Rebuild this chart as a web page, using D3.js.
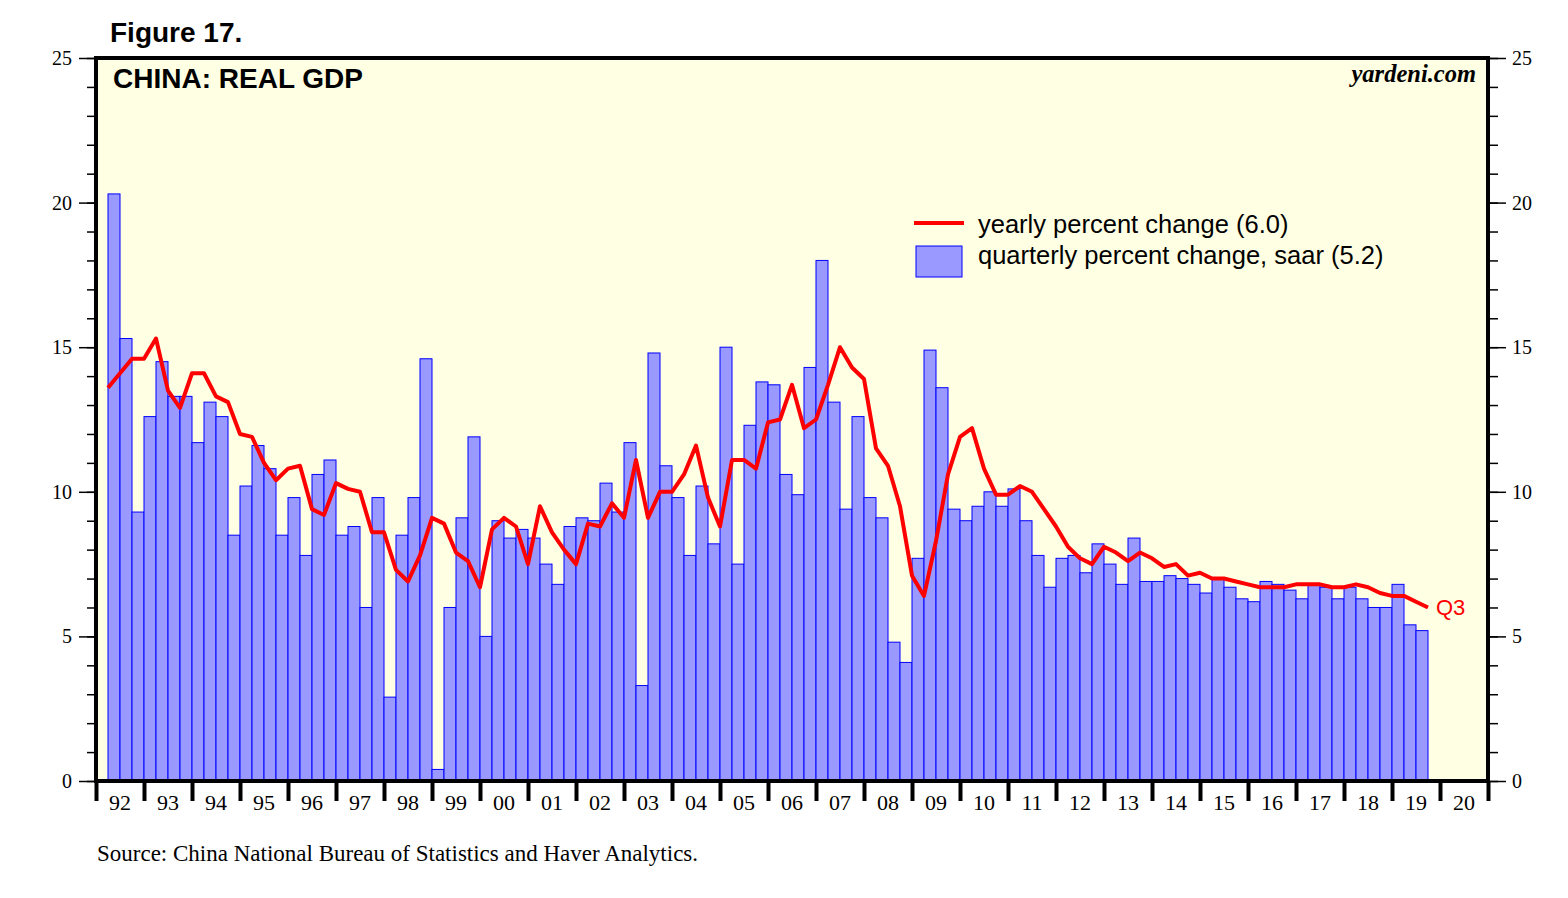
<!DOCTYPE html>
<html>
<head>
<meta charset="utf-8">
<script src="https://cdn.jsdelivr.net/npm/d3@7"></script>
<style>
  body { margin: 0; background: #fff; }
  .serif { font-family: "Liberation Serif", "Times New Roman", serif; }
  .sans { font-family: "Liberation Sans", Arial, sans-serif; }
</style>
</head>
<body>
<div class="canvas"></div>
<script>
const width = 1568;
const height = 898;

// yearly percent change, 1992Q1 .. 2019Q3
const yearly = [
  13.6, 14.1, 14.6, 14.6,
  15.3, 13.5, 12.9, 14.1,
  14.1, 13.3, 13.1, 12.0,
  11.9, 11.0, 10.4, 10.8,
  10.9, 9.4, 9.2, 10.3,
  10.1, 10.0, 8.6, 8.6,
  7.3, 6.9, 7.8, 9.1,
  8.9, 7.9, 7.6, 6.7,
  8.7, 9.1, 8.8, 7.5,
  9.5, 8.6, 8.0, 7.5,
  8.9, 8.8, 9.6, 9.1,
  11.1, 9.1, 10.0, 10.0,
  10.6, 11.6, 9.8, 8.8,
  11.1, 11.1, 10.8, 12.4,
  12.5, 13.7, 12.2, 12.5,
  13.7, 15.0, 14.3, 13.9,
  11.5, 10.9, 9.5, 7.1,
  6.4, 8.3, 10.6, 11.9,
  12.2, 10.8, 9.9, 9.9,
  10.2, 10.0, 9.4, 8.8,
  8.1, 7.7, 7.5, 8.1,
  7.9, 7.6, 7.9, 7.7,
  7.4, 7.5, 7.1, 7.2,
  7.0, 7.0, 6.9, 6.8,
  6.7, 6.7, 6.7, 6.8,
  6.8, 6.8, 6.7, 6.7,
  6.8, 6.7, 6.5, 6.4,
  6.4, 6.2, 6.0
];

// quarterly percent change saar, 1992Q2 .. 2019Q3
const quarterly = [
  20.3, 15.3, 9.3,
  12.6, 14.5, 13.3, 13.3,
  11.7, 13.1, 12.6, 8.5,
  10.2, 11.6, 10.8, 8.5,
  9.8, 7.8, 10.6, 11.1,
  8.5, 8.8, 6.0, 9.8,
  2.9, 8.5, 9.8, 14.6,
  0.4, 6.0, 9.1, 11.9,
  5.0, 9.0, 8.4, 8.7,
  8.4, 7.5, 6.8, 8.8,
  9.1, 9.0, 10.3, 9.3,
  11.7, 3.3, 14.8, 10.9,
  9.8, 7.8, 10.2, 8.2,
  15.0, 7.5, 12.3, 13.8,
  13.7, 10.6, 9.9, 14.3,
  18.0, 13.1, 9.4, 12.6,
  9.8, 9.1, 4.8, 4.1,
  7.7, 14.9, 13.6, 9.4,
  9.0, 9.5, 10.0, 9.5,
  10.1, 9.0, 7.8, 6.7,
  7.7, 7.8, 7.2, 8.2,
  7.5, 6.8, 8.4, 6.9,
  6.9, 7.1, 7.0, 6.8,
  6.5, 7.0, 6.7, 6.3,
  6.2, 6.9, 6.8, 6.6,
  6.3, 6.8, 6.7, 6.3,
  6.7, 6.3, 6.0, 6.0,
  6.8, 5.4, 5.2
];

const years = d3.range(1992, 2021);
const yMajor = [0, 5, 10, 15, 20, 25];
const yMinor = d3.range(0, 26);

const legendLine = "yearly percent change (6.0)";
const legendBar = "quarterly percent change, saar (5.2)";
const lastLabel = "Q3";

let [mt, mr, mb, ml] = [58, 80, 117, 96];
let graphWidth = width - ml - mr;
let graphHeight = height - mt - mb;

const svg = d3.select(".canvas")
  .append("svg")
  .attr("width", width)
  .attr("height", height);

// time in years: quarter i (0 = 1992Q1) ends at 1992 + (i+1)/4
const x = d3.scaleLinear().domain([1992, 2021]).range([ml, ml + graphWidth]);
const y = d3.scaleLinear().domain([0, 25]).range([mt + graphHeight, mt]);

// frame background
svg.append("rect")
  .attr("x", ml).attr("y", mt)
  .attr("width", graphWidth).attr("height", graphHeight)
  .attr("fill", "#ffffe3");

// bars (start 1992Q2)
svg.append("g")
  .selectAll("rect")
  .data(quarterly)
  .enter()
  .append("rect")
  .attr("x", (d, i) => x(1992 + (i + 1) / 4))
  .attr("width", (d, i) => x(1992 + (i + 2) / 4) - x(1992 + (i + 1) / 4))
  .attr("y", d => y(d))
  .attr("height", d => y(0) - y(d))
  .attr("fill", "#9999ff")
  .attr("stroke", "#0000ff")
  .attr("stroke-width", 1);

// yearly line
const line = d3.line()
  .x((d, i) => x(1992 + (i + 1) / 4))
  .y(d => y(d));

svg.append("path")
  .datum(yearly)
  .attr("d", line)
  .attr("fill", "none")
  .attr("stroke", "#ff0000")
  .attr("stroke-width", 4)
  .attr("stroke-linejoin", "round");

svg.append("text")
  .attr("class", "sans")
  .attr("x", x(1992 + yearly.length / 4) + 8)
  .attr("y", y(yearly[yearly.length - 1]) + 8)
  .attr("fill", "#ff0000")
  .attr("font-size", 22)
  .text(lastLabel);

// frame border
svg.append("rect")
  .attr("x", ml).attr("y", mt)
  .attr("width", graphWidth).attr("height", graphHeight)
  .attr("fill", "none")
  .attr("stroke", "#000")
  .attr("stroke-width", 4);

// y axes
function yAxis(g, gen, size, pad, labels) {
  g.call(gen.tickSize(size).tickPadding(pad))
    .call(a => a.select(".domain").remove())
    .call(a => a.selectAll("line").attr("stroke", "#000").attr("stroke-width", 1.5))
    .call(a => a.selectAll("text")
      .attr("class", "serif")
      .attr("font-size", 20)
      .attr("fill", "#000")
      .text(labels ? d => d : ""));
}

svg.append("g").attr("transform", `translate(${ml - 2},0)`)
  .call(g => yAxis(g, d3.axisLeft(y).tickValues(yMinor).tickFormat(""), 7, 0, false));
svg.append("g").attr("transform", `translate(${ml - 2},0)`)
  .call(g => yAxis(g, d3.axisLeft(y).tickValues(yMajor), 15, 7, true));
svg.append("g").attr("transform", `translate(${ml + graphWidth + 2},0)`)
  .call(g => yAxis(g, d3.axisRight(y).tickValues(yMinor).tickFormat(""), 8, 0, false));
svg.append("g").attr("transform", `translate(${ml + graphWidth + 2},0)`)
  .call(g => yAxis(g, d3.axisRight(y).tickValues(yMajor), 16, 6, true));

// x axis: year ticks and centred labels
const xAxis = svg.append("g").attr("transform", `translate(0,${mt + graphHeight + 1})`);
xAxis.call(d3.axisBottom(x).tickValues(years.concat([2021])).tickSize(19).tickFormat(""))
  .call(a => a.select(".domain").remove())
  .call(a => a.selectAll("line").attr("stroke", "#000").attr("stroke-width", 4));

svg.append("g")
  .selectAll("text")
  .data(years)
  .enter()
  .append("text")
  .attr("class", "serif")
  .attr("x", d => x(d + 0.5))
  .attr("y", 810)
  .attr("text-anchor", "middle")
  .attr("font-size", 22)
  .text(d => String(d % 100).padStart(2, "0"));

// titles
svg.append("text").attr("class", "sans")
  .attr("x", 110).attr("y", 42)
  .attr("font-size", 28).attr("font-weight", "bold")
  .text("Figure 17.");

svg.append("text").attr("class", "sans")
  .attr("x", 113).attr("y", 88)
  .attr("font-size", 28).attr("font-weight", "bold")
  .text("CHINA: REAL GDP");

svg.append("text").attr("class", "serif")
  .attr("x", 1476).attr("y", 82)
  .attr("text-anchor", "end")
  .attr("font-size", 24.5).attr("font-weight", "bold").attr("font-style", "italic")
  .text("yardeni.com");

// legend
const legend = svg.append("g").attr("class", "sans");
legend.append("line")
  .attr("x1", 914).attr("x2", 964).attr("y1", 223).attr("y2", 223)
  .attr("stroke", "#ff0000").attr("stroke-width", 4);
legend.append("text")
  .attr("x", 978).attr("y", 233).attr("font-size", 25.5)
  .text(legendLine);
legend.append("rect")
  .attr("x", 916).attr("y", 246).attr("width", 46).attr("height", 31)
  .attr("fill", "#9999ff").attr("stroke", "#0000ff").attr("stroke-width", 1);
legend.append("text")
  .attr("x", 978).attr("y", 264).attr("font-size", 25.5)
  .text(legendBar);

svg.append("text").attr("class", "serif")
  .attr("x", 97).attr("y", 861)
  .attr("font-size", 23)
  .text("Source: China National Bureau of Statistics and Haver Analytics.");
</script>
</body>
</html>
